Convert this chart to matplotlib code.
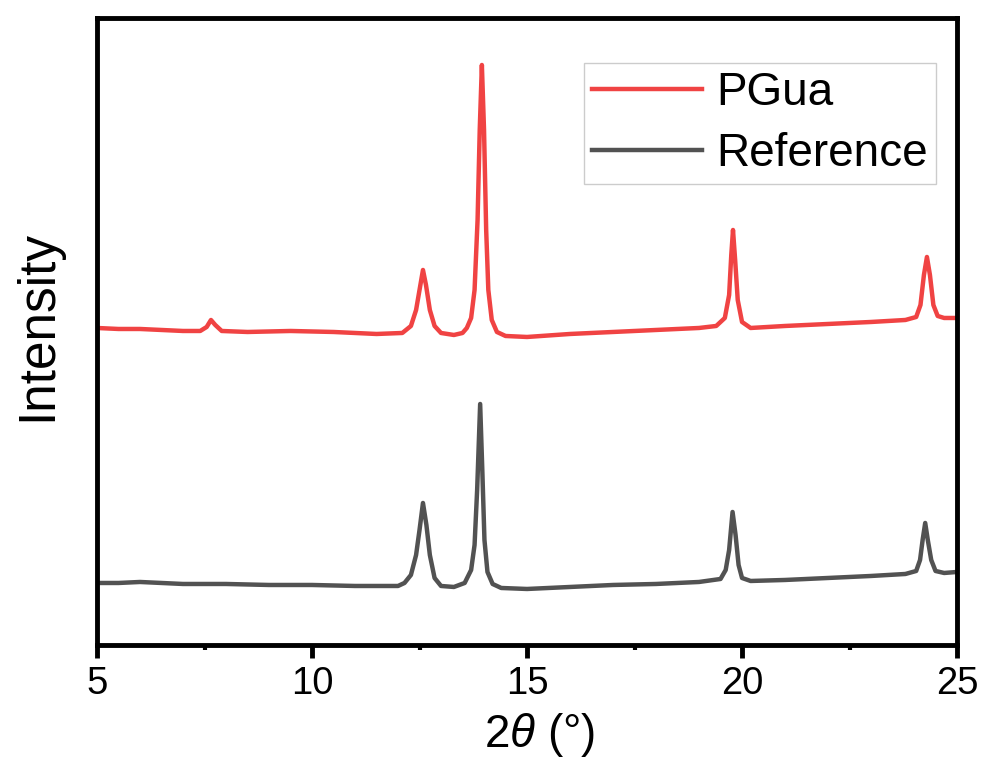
import matplotlib
matplotlib.use("Agg")
import matplotlib.pyplot as plt

plt.rcParams['font.family'] = ['Liberation Sans', 'DejaVu Sans']
plt.rcParams['mathtext.fontset'] = 'custom'
plt.rcParams['mathtext.rm'] = 'Liberation Sans'
plt.rcParams['mathtext.it'] = 'Liberation Sans:italic'

# PGua pattern (arbitrary units)
pgua_x = [5.0, 5.5, 6.0, 6.5, 7.0, 7.4, 7.55, 7.65, 7.75, 7.9, 8.5, 9.5, 10.5, 11.5,
          12.1, 12.3, 12.42, 12.5, 12.58, 12.65, 12.74, 12.85, 13.0, 13.3, 13.5,
          13.6, 13.7, 13.78, 13.85, 13.9, 13.95, 14.0, 14.05, 14.1, 14.18, 14.3,
          14.5, 15.0, 16.0, 17.0, 18.0, 19.0, 19.4, 19.6, 19.7, 19.75, 19.79,
          19.84, 19.9, 20.0, 20.2, 21.0, 22.0, 23.0, 23.8, 24.05, 24.15, 24.23,
          24.3, 24.37, 24.45, 24.55, 24.7, 25.0]
pgua_y = [317, 316, 316, 315, 314, 314, 318, 325, 320, 314, 313, 314, 313, 311,
          312, 319, 335, 355, 375, 360, 335, 319, 312, 310, 312,
          317, 327, 355, 425, 515, 580, 515, 415, 355, 325, 313,
          309, 308, 311, 313, 315, 317, 319, 327, 350, 390, 415,
          385, 345, 323, 317, 319, 321, 323, 325, 328, 340, 370,
          388, 370, 340, 329, 327, 327]

# Reference pattern
ref_x = [5.0, 5.5, 6.0, 7.0, 8.0, 9.0, 10.0, 11.0, 12.0, 12.15, 12.3, 12.42, 12.5,
         12.58, 12.66, 12.74, 12.85, 13.0, 13.3, 13.55, 13.7, 13.78, 13.84, 13.91,
         13.96, 14.01, 14.08, 14.2, 14.4, 15.0, 16.0, 17.0, 18.0, 19.0, 19.5,
         19.62, 19.7, 19.78, 19.85, 19.92, 20.0, 20.2, 21.0, 22.0, 23.0, 23.8,
         24.05, 24.14, 24.2, 24.26, 24.32, 24.4, 24.5, 24.7, 25.0]
ref_y = [62, 62, 63, 61, 61, 60, 60, 59, 59, 62, 70, 90, 115,
         142, 120, 90, 67, 59, 58, 62, 75, 100, 155, 241,
         175, 105, 73, 61, 57, 56, 58, 60, 61, 63, 66,
         75, 95, 133, 110, 80, 67, 64, 65, 67, 69, 71,
         74, 85, 105, 122, 105, 85, 74, 72, 73]

fig = plt.figure(figsize=(9.85, 7.65), dpi=100)
ax = fig.add_axes([0.0985, 0.1569, 0.8731, 0.8196])

ax.plot(pgua_x, pgua_y, color='#f04343', lw=3.2, label='PGua')
ax.plot(ref_x, ref_y, color='#525252', lw=3.2, label='Reference')

ax.set_xlim(5, 25)
ax.set_ylim(0, 627)
ax.set_xticks([5, 10, 15, 20, 25])
ax.set_xticks([7.5, 12.5, 17.5, 22.5], minor=True)
ax.set_yticks([])

for sp in ax.spines.values():
    sp.set_linewidth(3.5)

ax.tick_params(axis='x', which='major', direction='out', length=9, width=3.5,
               labelsize=27.5, pad=6)
ax.tick_params(axis='x', which='minor', direction='out', length=3.5, width=3)

ax.set_xlabel(r'2$\mathit{\theta}$ (°)', fontsize=33)
ax.xaxis.set_label_coords(0.515, -0.105)
ax.set_ylabel('Intensity', fontsize=37)
ax.yaxis.set_label_coords(-0.041, 0.509)

leg = ax.legend(loc='upper left', bbox_to_anchor=(0.566, 0.928), borderaxespad=0,
                fontsize=33, handlelength=2.4, handletextpad=0.3,
                labelspacing=0.36, borderpad=0.18, fancybox=False, framealpha=1)
leg.get_frame().set_edgecolor('#cccccc')
leg.get_frame().set_linewidth(1)

fig.savefig('out.png', dpi=100)
